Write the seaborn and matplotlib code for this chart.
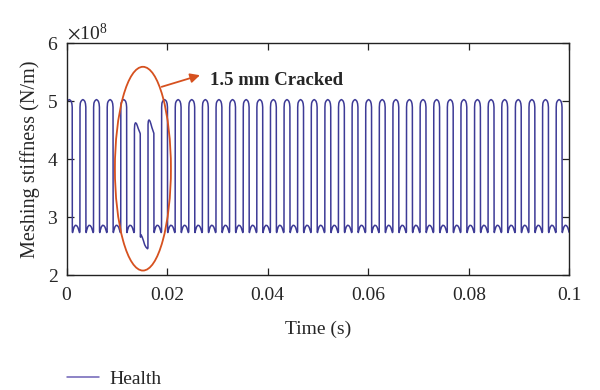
import numpy as np
import pandas as pd
import matplotlib
matplotlib.use("Agg")
import matplotlib.pyplot as plt
import seaborn as sns
from matplotlib.patches import Ellipse
from matplotlib.ticker import ScalarFormatter

# ---- data ----
mesh_period = 0.002706          # s, one tooth-mesh cycle
first_rise = -0.00006           # s, rise edge of cycle 0
n_cycles = 38
scale = 1e8

# one mesh cycle (phase 0 = rising edge), stiffness in 1e8 N/m
cycle_phase = [0.000, 0.008, 0.03, 0.08, 0.15, 0.22, 0.29, 0.36, 0.41, 0.435,
               0.443, 0.46, 0.50, 0.58, 0.67, 0.76, 0.85, 0.93, 0.97, 0.995]
healthy_value = [2.76, 4.90, 4.97, 5.00, 5.02, 5.03, 5.02, 5.00, 4.96, 4.90,
                 2.76, 2.74, 2.78, 2.84, 2.865, 2.86, 2.83, 2.77, 2.74, 2.75]
crack1_value = [2.76, 4.52, 4.60, 4.63, 4.62, 4.58, 4.53, 4.49, 4.46, 4.44,
                2.67, 2.66, 2.70, 2.66, 2.60, 2.53, 2.49, 2.47, 2.46, 2.47]
crack2_value = [2.48, 4.60, 4.66, 4.68, 4.66, 4.61, 4.55, 4.50, 4.47, 4.45,
                2.76, 2.74, 2.78, 2.84, 2.865, 2.86, 2.83, 2.77, 2.74, 2.75]
crack_cycles = {5: crack1_value, 6: crack2_value}

x_ticks = [0, 0.02, 0.04, 0.06, 0.08, 0.1]
x_tick_labels = ["0", "0.02", "0.04", "0.06", "0.08", "0.1"]
y_ticks = [2, 3, 4, 5, 6]

times, stiff = [], []
for k in range(n_cycles):
    vals = crack_cycles.get(k, healthy_value)
    for p, v in zip(cycle_phase, vals):
        times.append(first_rise + (k + p) * mesh_period)
        stiff.append(v * scale)
df = pd.DataFrame({"Time (s)": times, "Stiffness": stiff})

# ---- style ----
sns.set_style("ticks")
plt.rcParams['font.family'] = ['Liberation Serif', 'DejaVu Serif']
plt.rcParams['mathtext.fontset'] = 'stix'

line_color = '#3d3a96'
red = '#d6511f'
fs = 14

fig = plt.figure(figsize=(6, 3.9), dpi=100)
ax = fig.add_axes([0.111, 0.2936, 0.838, 0.5954])

sns.lineplot(data=df, x="Time (s)", y="Stiffness", ax=ax, sort=False,
             estimator=None, color=line_color, linewidth=1.1, label='Health',
             legend=False)

ax.set_xlim(0, 0.1)
ax.set_ylim(2 * scale, 6 * scale)
ax.set_xticks(x_ticks)
ax.set_xticklabels(x_tick_labels)
ax.set_yticks([v * scale for v in y_ticks])
fmt = ScalarFormatter(useMathText=True)
ax.yaxis.set_major_formatter(fmt)
ax.yaxis.get_offset_text().set_fontsize(fs)

ax.tick_params(direction='in', top=True, right=True, length=5, width=0.9,
               labelsize=fs, color='#222222')
ax.tick_params(axis='x', pad=8)
ax.tick_params(axis='y', pad=6)
for s in ax.spines.values():
    s.set_linewidth(1.0)
    s.set_color('#222222')

ax.set_xlabel("Time (s)", fontsize=fs, labelpad=12)
ax.set_ylabel("Meshing stiffness (N/m)", fontsize=14.6, labelpad=5)

# annotation
ell = Ellipse((0.01518, 3.84 * scale), width=0.01114, height=3.51 * scale,
              fill=False, edgecolor=red, linewidth=1.3, zorder=5)
ax.add_patch(ell)
ax.annotate("", xy=(0.02652, 5.45 * scale), xytext=(0.0189, 5.25 * scale),
            arrowprops=dict(arrowstyle='-|>', color=red, lw=1.3,
                            mutation_scale=14, shrinkA=0, shrinkB=0), zorder=6)
ax.text(0.0285, 5.36 * scale, "1.5 mm Cracked", fontsize=13.5,
        fontweight='bold', ha='left', va='center')

handles = ax.get_lines()[:1]
leg = fig.legend(handles, ['Health'], loc='center left',
                 bbox_to_anchor=(0.083, 0.027), frameon=False, fontsize=fs,
                 handlelength=1.65, handletextpad=0.5)
for h in leg.get_lines():
    h.set_color('#6e62b6')

fig.savefig("out.png", dpi=100)
